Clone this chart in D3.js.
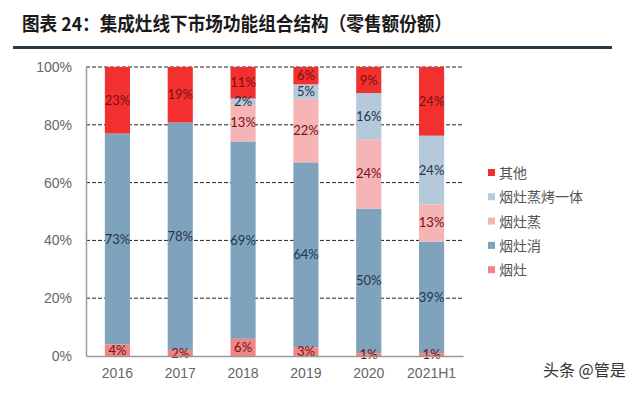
<!DOCTYPE html>
<html>
<head>
<meta charset="utf-8">
<script src="https://cdn.jsdelivr.net/npm/d3@7"></script>
<style>
  html, body { margin: 0; padding: 0; background: #fff; }
  svg { display: block; }
</style>
</head>
<body>
<svg id="chart" width="640" height="394"></svg>
<script>
// chart data
const years = ["2016", "2017", "2018", "2019", "2020", "2021H1"];
const yanZao = [4, 2, 6, 3, 1, 1];            // 烟灶
const yanZaoXiao = [73, 78, 69, 64, 50, 39];  // 烟灶消
const yanZaoZheng = [0, 0, 13, 22, 24, 13];   // 烟灶蒸
const zhengKao = [0, 0, 2, 5, 16, 24];        // 烟灶蒸烤一体
const other = [23, 19, 11, 6, 9, 24];         // 其他
const yTicks = [0, 0.2, 0.4, 0.6, 0.8, 1];

const seriesNames = ["烟灶", "烟灶消", "烟灶蒸", "烟灶蒸烤一体", "其他"];
const seriesValues = [yanZao, yanZaoXiao, yanZaoZheng, zhengKao, other];
const colors = ["#f08585", "#7fa3bd", "#f5b4b6", "#b5c9db", "#f2302f"];
const labelColors = ["#7a1010", "#1f3550", "#7a1010", "#1f3550", "#7a1010"];

const svg = d3.select("#chart");

// title + underline
svg.append("text")
  .attr("x", 22).attr("y", 31)
  .attr("font-family", "'Noto Sans CJK SC', sans-serif")
  .attr("font-weight", "bold")
  .attr("font-size", 19)
  .attr("fill", "#1a1a1a")
  .attr("textLength", 430)
  .attr("lengthAdjust", "spacingAndGlyphs")
  .text("图表 24：集成灶线下市场功能组合结构（零售额份额）");

svg.append("rect")
  .attr("x", 13).attr("y", 46)
  .attr("width", 599).attr("height", 3)
  .attr("fill", "#2b3a44");

const margin = { left: 86, right: 463, top: 67, bottom: 356 };

const x = d3.scaleBand().domain(years).range([margin.left, margin.right]).paddingInner(0.6).paddingOuter(0.3);
const y = d3.scaleLinear().domain([0, 1]).range([margin.bottom, margin.top]);

// table for the stack
const rows = years.map((yr, i) => {
  const r = { year: yr };
  seriesNames.forEach((n, k) => { r[n] = seriesValues[k][i]; });
  return r;
});
const stacked = d3.stack().keys(seriesNames).offset(d3.stackOffsetExpand)(rows);

// dashed gridlines behind bars
svg.append("g").selectAll("line")
  .data(yTicks.filter(t => t > 0))
  .join("line")
  .attr("x1", margin.left).attr("x2", margin.right)
  .attr("y1", d => y(d)).attr("y2", d => y(d))
  .attr("stroke", "#222")
  .attr("stroke-width", 1)
  .attr("stroke-dasharray", "4,2");

// bars
const layers = svg.append("g").selectAll("g")
  .data(stacked)
  .join("g")
  .attr("fill", (d, i) => colors[i]);

layers.selectAll("rect")
  .data(d => d)
  .join("rect")
  .attr("x", d => x(d.data.year))
  .attr("width", x.bandwidth())
  .attr("y", d => y(d[1]))
  .attr("height", d => y(d[0]) - y(d[1]));

// value labels
stacked.forEach((layer, k) => {
  svg.append("g").selectAll("text")
    .data(layer.filter(d => d.data[layer.key] > 0))
    .join("text")
    .attr("x", d => x(d.data.year) + x.bandwidth() / 2)
    .attr("y", d => y((d[0] + d[1]) / 2))
    .attr("dy", "0.35em")
    .attr("text-anchor", "middle")
    .attr("font-family", "Lato, 'Open Sans', sans-serif")
    .attr("font-size", 13)
    .attr("fill", labelColors[k])
    .text(d => d.data[layer.key] + "%");
});

// axes
const yAxis = svg.append("g")
  .attr("transform", `translate(${margin.left},0)`)
  .call(d3.axisLeft(y).tickValues(yTicks).tickFormat(d3.format(".0%")).tickSize(0).tickPadding(14));
yAxis.select(".domain").attr("stroke", "#9a9a9a").attr("stroke-width", 1.5);
yAxis.selectAll("text")
  .attr("font-family", "'Liberation Sans', Arial, sans-serif")
  .attr("font-size", 14)
  .attr("fill", "#666");

const xAxis = svg.append("g")
  .attr("transform", `translate(0,${margin.bottom})`)
  .call(d3.axisBottom(x).tickSize(0).tickPadding(12));
xAxis.select(".domain").attr("stroke", "#9a9a9a").attr("stroke-width", 1.5);
xAxis.selectAll("text")
  .attr("font-family", "'Liberation Sans', Arial, sans-serif")
  .attr("font-size", 14)
  .attr("fill", "#666");

// legend, top entry is the top series
const legend = svg.append("g").attr("transform", "translate(488,173)");
const legendItems = legend.selectAll("g")
  .data(seriesNames.map((n, i) => ({ name: n, color: colors[i] })).reverse())
  .join("g")
  .attr("transform", (d, i) => `translate(0,${i * 24.3})`);
legendItems.append("rect")
  .attr("x", 0).attr("y", -4)
  .attr("width", 7).attr("height", 7)
  .attr("fill", d => d.color);
legendItems.append("text")
  .attr("x", 11).attr("y", 0)
  .attr("dy", "0.35em")
  .attr("font-family", "'Noto Sans CJK SC', sans-serif")
  .attr("font-size", 14)
  .attr("fill", "#555")
  .text(d => d.name);

// watermark
svg.append("text")
  .attr("x", 543).attr("y", 376)
  .attr("font-family", "'Noto Sans CJK SC', sans-serif")
  .attr("font-size", 16)
  .attr("fill", "#333")
  .text("头条 @管是");
</script>
</body>
</html>
